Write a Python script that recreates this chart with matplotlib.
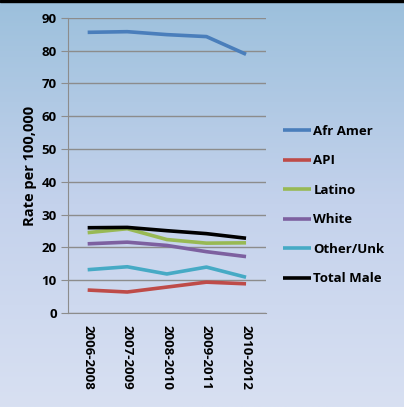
import numpy as np
import matplotlib
matplotlib.use("Agg")
import matplotlib.pyplot as plt
from matplotlib.colors import LinearSegmentedColormap

# data
periods = ["2006-2008", "2007-2009", "2008-2010", "2009-2011", "2010-2012"]
afr_amer = [85.6, 85.8, 84.9, 84.3, 78.9]
api = [7.0, 6.4, 7.9, 9.4, 8.9]
latino = [24.5, 25.7, 22.4, 21.3, 21.4]
white = [21.1, 21.6, 20.6, 18.7, 17.2]
other_unk = [13.2, 14.1, 11.9, 14.0, 10.9]
total_male = [26.0, 26.1, 25.1, 24.2, 22.8]

series = [
    ("Afr Amer", afr_amer, "#4A7EBB"),
    ("API", api, "#BE4B48"),
    ("Latino", latino, "#98B954"),
    ("White", white, "#7D60A0"),
    ("Other/Unk", other_unk, "#46AAC5"),
    ("Total Male", total_male, "#000000"),
]

plt.rcParams["font.family"] = ["Open Sans", "DejaVu Sans"]
plt.rcParams["font.weight"] = "bold"

fig = plt.figure(figsize=(4.04, 4.07), dpi=100)

# background gradient (blue at top, pale lavender at bottom)
bg = fig.add_axes([0, 0, 1, 1], zorder=0)
cmap = LinearSegmentedColormap.from_list("bg", ["#d8e0f2", "#c4d2ec", "#9cc0dc"])
grad = np.linspace(0, 1, 256).reshape(-1, 1)
bg.imshow(grad, cmap=cmap, aspect="auto", origin="lower", extent=[0, 1, 0, 1])
bg.axhspan(0.995, 1.0, color="black")
bg.set_xlim(0, 1)
bg.set_ylim(0, 1)
bg.axis("off")

ax = fig.add_axes([0.168, 0.231, 0.49, 0.725], zorder=1)
ax.patch.set_alpha(0)

x = np.arange(len(periods))
for name, vals, col in series:
    ax.plot(x, vals, color=col, lw=2.6, label=name, solid_capstyle="butt")

ax.set_xlim(-0.5, len(periods) - 0.5)
ax.set_ylim(0, 90)
ax.set_yticks(range(0, 91, 10))
ax.set_xticks(x)
ax.set_xticklabels(periods, rotation=270, fontsize=9.5, fontweight="bold")
ax.tick_params(axis="x", length=0, pad=9)
ax.tick_params(axis="y", length=5, color="#8c8c8c", labelsize=9.5, pad=3)
ax.yaxis.grid(True, color="#8c8c8c", lw=1)
ax.set_axisbelow(True)
for s in ["top", "right"]:
    ax.spines[s].set_visible(False)
for s in ["left", "bottom"]:
    ax.spines[s].set_color("#8c8c8c")
ax.set_ylabel("Rate per 100,000", fontsize=10.5, fontweight="bold", labelpad=3)

ax.legend(loc="center left", bbox_to_anchor=(1.06, 0.366), frameon=False,
          fontsize=9.5, handlelength=2.1, handletextpad=0.2, labelspacing=1.25,
          borderaxespad=0)

fig.savefig("out.png", dpi=100)
